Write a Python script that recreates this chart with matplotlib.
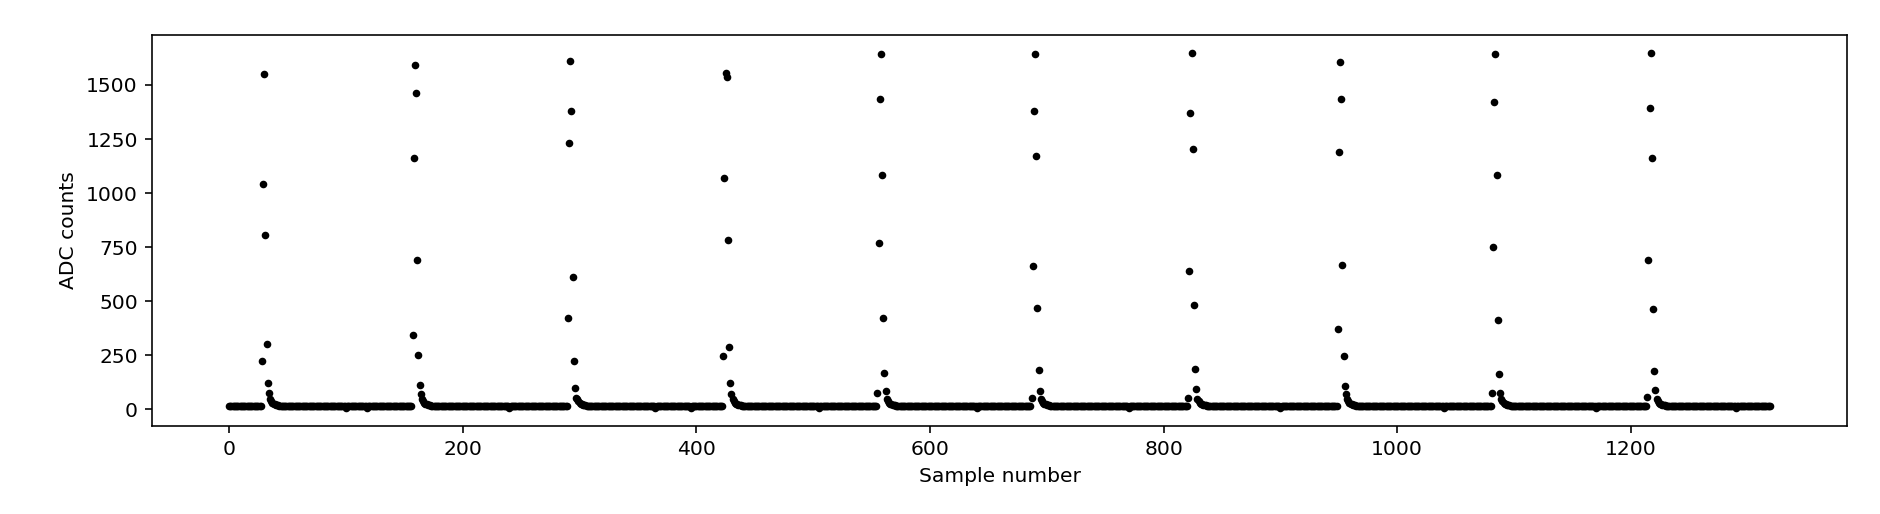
import numpy as np
import matplotlib
matplotlib.use("Agg")
import matplotlib.pyplot as plt

# number of samples and quiet level between pulses
n_samples = 1320
baseline = 15

# first sample index of each pulse and the samples of the pulse itself
pulse_start = [28, 157, 290, 423, 555, 687, 821, 949, 1081, 1214]
pulse_values = [
    [224, 1043, 1550, 808, 301, 120, 77],
    [346, 1162, 1592, 1463, 691, 253, 113, 70],
    [422, 1233, 1612, 1380, 613, 224, 100, 54],
    [247, 1071, 1556, 1537, 783, 290, 120, 70],
    [77, 768, 1435, 1641, 1085, 422, 170, 85],
    [51, 661, 1378, 1641, 1170, 471, 182, 85],
    [54, 641, 1372, 1649, 1205, 485, 188, 93],
    [374, 1190, 1607, 1435, 668, 247, 108, 70],
    [77, 752, 1421, 1641, 1085, 415, 162, 77],
    [57, 691, 1394, 1649, 1162, 464, 176, 88],
]
# slow decay back to the baseline after every pulse
tail = [48, 38, 30, 26, 23, 21, 20, 19, 18, 18, 17, 17, 16, 16]
# a few low samples under the baseline
dip_index = [100, 118, 240, 365, 395, 505, 640, 770, 900, 1040, 1170, 1290]
dip_value = 5

adc = np.full(n_samples, baseline, dtype=float)
for i in dip_index:
    adc[i] = dip_value
for start, vals in zip(pulse_start, pulse_values):
    adc[start:start + len(vals)] = vals
    t0 = start + len(vals)
    adc[t0:t0 + len(tail)] = tail
samples = np.arange(n_samples)

DPI = 146
fig = plt.figure(figsize=(1880 / DPI, 514 / DPI), dpi=DPI)
ax = fig.add_axes([0.0809, 0.171, 0.9015, 0.761])
ax.plot(samples, adc, "k.", markersize=5.5)
ax.set_xlabel("Sample number")
ax.set_ylabel("ADC counts")

fig.savefig("out.png", dpi=DPI)
